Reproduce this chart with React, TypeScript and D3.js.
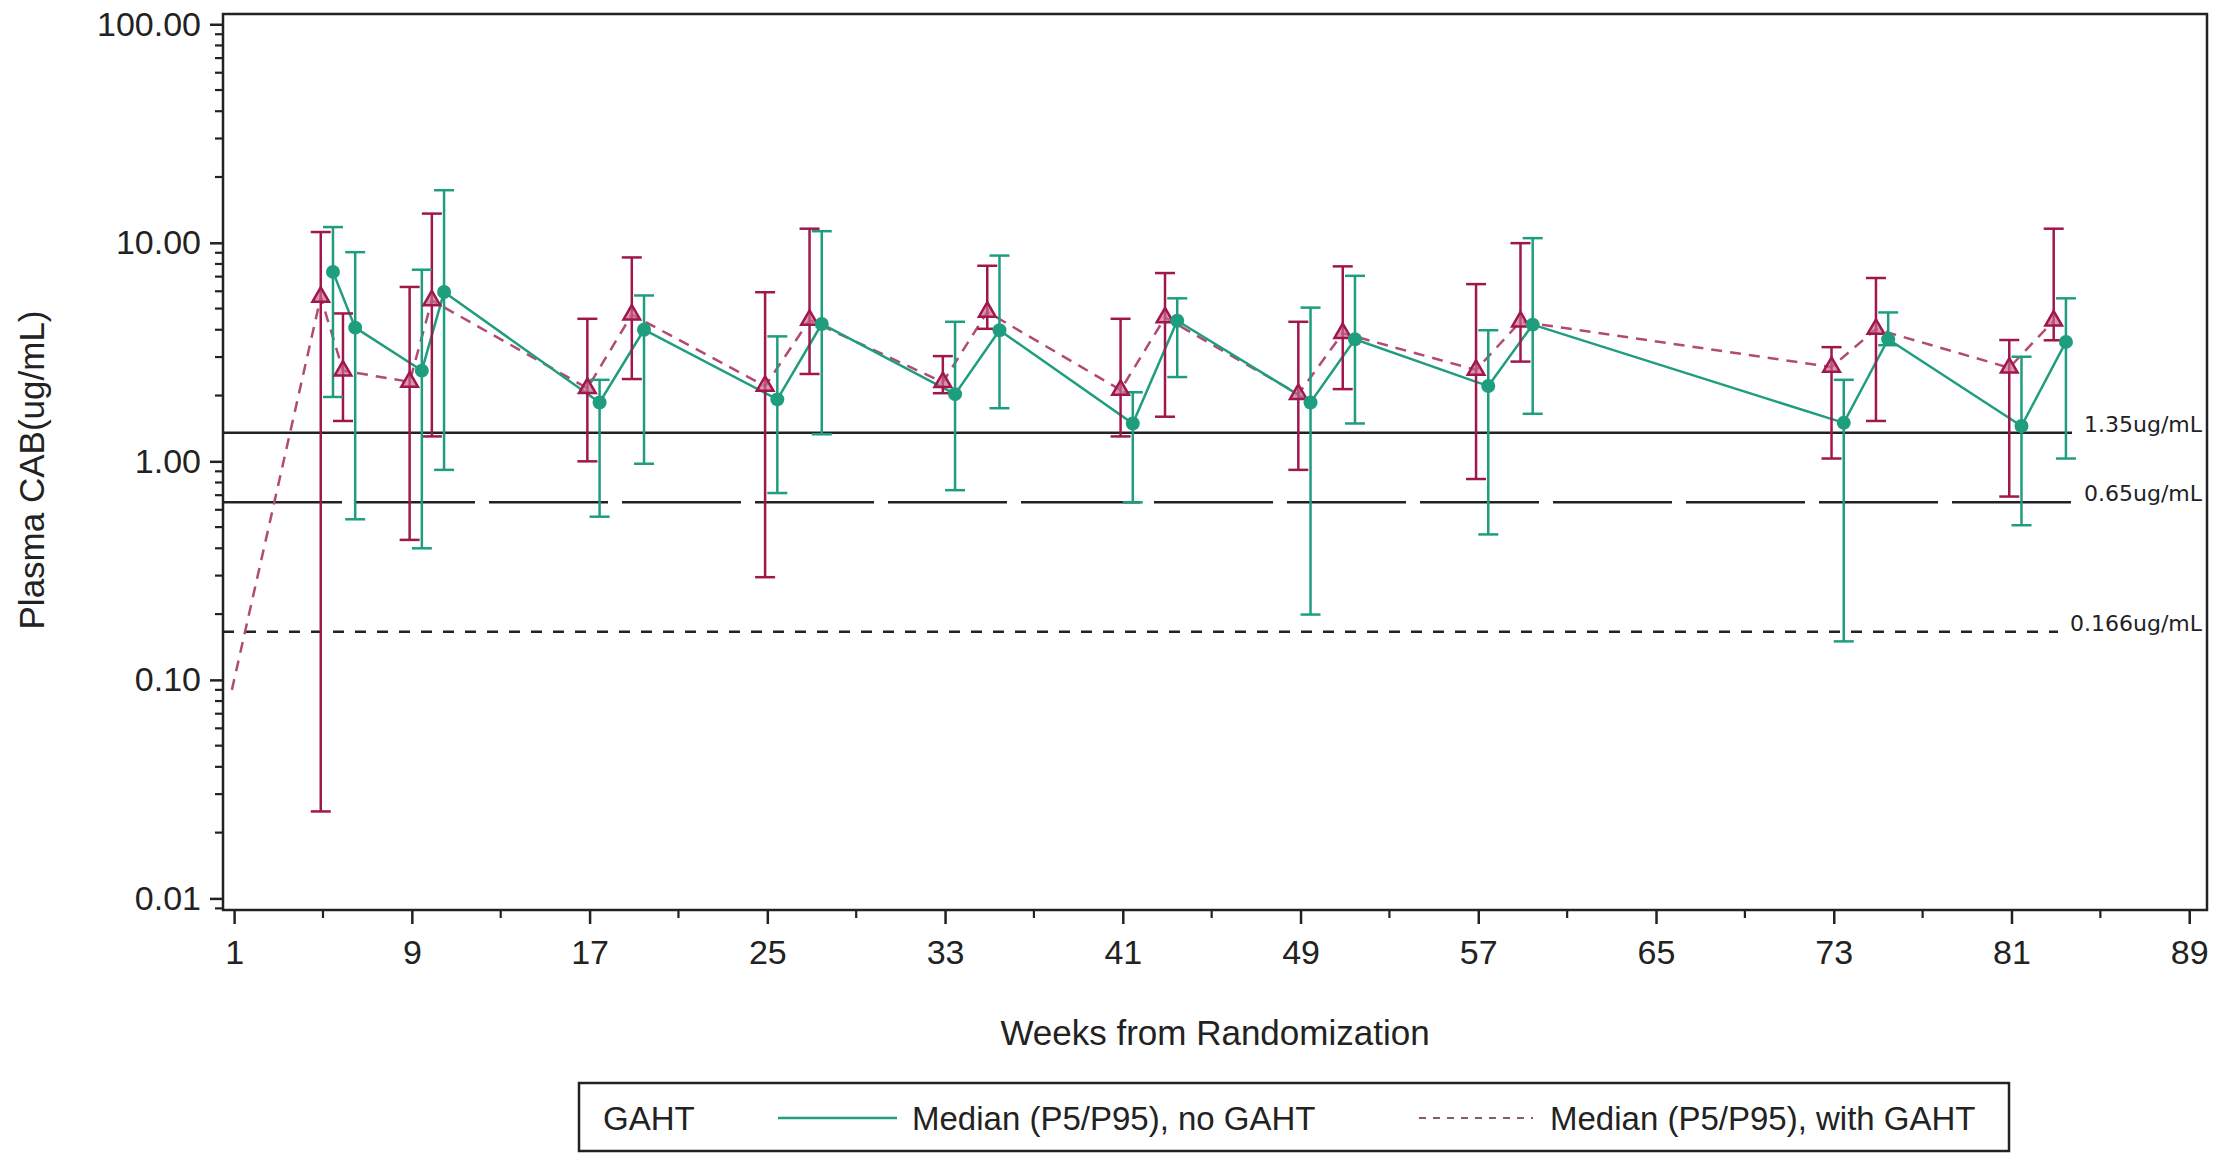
import React, { useEffect, useRef } from 'react'
import * as d3 from 'd3'

// nominal visit weeks
const gahtWeeks = [1, 5, 6, 9, 10, 17, 19, 25, 27, 33, 35, 41, 43, 49, 51, 57, 59, 73, 75, 81, 83]
const noGahtWeeks = [5, 6, 9, 10, 17, 19, 25, 27, 33, 35, 41, 43, 49, 51, 57, 59, 73, 75, 81, 83]

// Median (P5/P95), no GAHT
const noGahtMedian = [7.36, 4.09, 2.6, 5.95, 1.86, 4.0, 1.92, 4.25, 2.03, 3.98, 1.49, 4.4, 1.86, 3.62, 2.21, 4.22, 1.5, 3.62, 1.45, 3.52]
const noGahtP5 = [1.97, 0.543, 0.4, 0.914, 0.558, 0.975, 0.716, 1.33, 0.738, 1.75, 0.649, 2.43, 0.199, 1.49, 0.463, 1.65, 0.15, 3.4, 0.51, 1.03]
const noGahtP95 = [11.8, 9.06, 7.53, 17.4, 2.36, 5.74, 3.73, 11.3, 4.35, 8.74, 2.07, 5.57, 5.05, 7.06, 3.98, 10.5, 2.36, 4.8, 3.01, 5.57]

// Median (P5/P95), with GAHT
const gahtMedian = [0.09, 5.65, 2.6, 2.31, 5.45, 2.16, 4.69, 2.21, 4.43, 2.3, 4.83, 2.12, 4.55, 2.03, 3.86, 2.62, 4.36, 2.7, 4.03, 2.68, 4.4]
const gahtP5 = [null, 0.025, 1.53, 0.437, 1.3, 1.0, 2.38, 0.295, 2.51, 2.05, 4.04, 1.3, 1.6, 0.914, 2.14, 0.83, 2.86, 1.03, 1.53, 0.69, 3.58]
const gahtP95 = [null, 11.2, 4.75, 6.28, 13.6, 4.49, 8.57, 5.94, 11.6, 3.03, 7.85, 4.49, 7.27, 4.35, 7.8, 6.47, 9.96, 3.33, 6.9, 3.59, 11.6]

const refValues = [1.35, 0.65, 0.166]
const refLabels = ['1.35ug/mL', '0.65ug/mL', '0.166ug/mL']

const xTicks = [1, 9, 17, 25, 33, 41, 49, 57, 65, 73, 81, 89]
const xMinorTicks = [5, 13, 21, 29, 37, 45, 53, 61, 69, 77, 85]
const yTicks = [0.01, 0.1, 1, 10, 100]

const GREEN = '#1f9e7f'
const RED = '#a0174b'
const FONT = "'Liberation Sans', Arial, sans-serif"

type Pt = { w: number, m: number, lo: number | null, hi: number | null }

function App () {
  const ref = useRef<SVGSVGElement>(null)

  useEffect(() => {
    document.body.style.margin = '0'
    const W = 2225
    const H = 1153
    const left = 223
    const right = 2207
    const top = 14
    const bottom = 910

    const svg = d3.select(ref.current)
    svg.selectAll('*').remove()

    const x = d3.scaleLinear().domain([0.5, 89.8]).range([left, right])
    const y = d3.scaleLog().domain([0.00885, 111.4]).range([bottom, top])

    svg.append('rect').attr('width', W).attr('height', H).attr('fill', '#fff')

    // clip
    svg.append('clipPath').attr('id', 'plot-clip')
      .append('rect')
      .attr('x', left).attr('y', top)
      .attr('width', right - left).attr('height', bottom - top)

    // y axis
    const yAxis = svg.append('g')
      .attr('transform', 'translate(' + left + ',0)')
      .call(d3.axisLeft(y).tickValues(yTicks).tickFormat(d3.format('.2f')).tickSize(13).tickPadding(9).tickSizeOuter(0))
    yAxis.select('.domain').remove()
    yAxis.selectAll('line').attr('stroke', '#222').attr('stroke-width', 2.5)
    yAxis.selectAll('text').attr('font-family', FONT).attr('font-size', 34).attr('fill', '#222')

    const yMinor: number[] = []
    for (let e = -3; e <= 2; e++) {
      for (let k = 2; k <= 9; k++) {
        const v = k * Math.pow(10, e)
        if (v >= 0.00885 && v <= 111.4) yMinor.push(v)
      }
    }
    svg.append('g').selectAll('line').data(yMinor).enter().append('line')
      .attr('x1', left - 8).attr('x2', left)
      .attr('y1', d => y(d)).attr('y2', d => y(d))
      .attr('stroke', '#222').attr('stroke-width', 2.2)

    // x axis
    const xAxis = svg.append('g')
      .attr('transform', 'translate(0,' + bottom + ')')
      .call(d3.axisBottom(x).tickValues(xTicks).tickFormat(d3.format('d')).tickSize(14).tickPadding(25).tickSizeOuter(0))
    xAxis.select('.domain').remove()
    xAxis.selectAll('line').attr('stroke', '#222').attr('stroke-width', 2.5)
    xAxis.selectAll('text').attr('font-family', FONT).attr('font-size', 34).attr('fill', '#222').attr('dy', '0.45em')

    svg.append('g').selectAll('line').data(xMinorTicks).enter().append('line')
      .attr('x1', d => x(d)).attr('x2', d => x(d))
      .attr('y1', bottom).attr('y2', bottom + 8)
      .attr('stroke', '#222').attr('stroke-width', 2.2)

    // axis labels
    svg.append('text')
      .attr('x', (left + right) / 2).attr('y', 1032)
      .attr('text-anchor', 'middle').attr('dominant-baseline', 'central')
      .attr('font-family', FONT).attr('font-size', 35).attr('fill', '#222')
      .text('Weeks from Randomization')

    svg.append('g')
      .attr('transform', 'translate(31,' + ((top + bottom) / 2 + 8) + ')')
      .append('text')
      .attr('transform', 'rotate(-90)')
      .attr('text-anchor', 'middle').attr('dominant-baseline', 'central')
      .attr('font-family', FONT).attr('font-size', 35).attr('fill', '#222')
      .text('Plasma CAB(ug/mL)')

    // reference lines with labels at the right
    const refDash = ['none', '119,14', '11,11']
    refValues.forEach((v, i) => {
      const t = svg.append('text')
        .attr('x', 2202).attr('y', y(v) - 1)
        .attr('text-anchor', 'end')
        .attr('font-family', "'DejaVu Sans', sans-serif").attr('font-size', 22).attr('fill', '#222')
        .text(refLabels[i])
      const tw = (t.node() as SVGTextElement).getComputedTextLength()
      svg.append('line')
        .attr('x1', left).attr('x2', 2202 - tw - 12)
        .attr('y1', y(v)).attr('y2', y(v))
        .attr('stroke', '#222').attr('stroke-width', 2.5)
        .attr('stroke-dasharray', refDash[i])
    })

    const green: Pt[] = noGahtWeeks.map((w, i) => ({ w: w + 0.45, m: noGahtMedian[i], lo: noGahtP5[i], hi: noGahtP95[i] }))
    const red: Pt[] = gahtWeeks.map((w, i) => ({ w: w - 0.1, m: gahtMedian[i], lo: gahtP5[i], hi: gahtP95[i] }))

    const plot = svg.append('g').attr('clip-path', 'url(#plot-clip)')
    const line = d3.line<Pt>().x(d => x(d.w)).y(d => y(d.m))

    plot.append('path').datum(red)
      .attr('d', line).attr('fill', 'none')
      .attr('stroke', '#b24b72').attr('stroke-width', 2.5)
      .attr('stroke-dasharray', '11,8')

    plot.append('path').datum(green)
      .attr('d', line).attr('fill', 'none')
      .attr('stroke', GREEN).attr('stroke-width', 2.5)

    function errorBars (data: Pt[], color: string) {
      const g = plot.append('g').attr('stroke', color).attr('stroke-width', 2.5)
      const withBars = data.filter(d => d.lo != null && d.hi != null)
      g.selectAll('.v').data(withBars).enter().append('line')
        .attr('x1', d => x(d.w)).attr('x2', d => x(d.w))
        .attr('y1', d => y(d.lo as number)).attr('y2', d => y(d.hi as number))
      g.selectAll('.lo').data(withBars).enter().append('line')
        .attr('x1', d => x(d.w) - 10).attr('x2', d => x(d.w) + 10)
        .attr('y1', d => y(d.lo as number)).attr('y2', d => y(d.lo as number))
      g.selectAll('.hi').data(withBars).enter().append('line')
        .attr('x1', d => x(d.w) - 10).attr('x2', d => x(d.w) + 10)
        .attr('y1', d => y(d.hi as number)).attr('y2', d => y(d.hi as number))
    }
    errorBars(red, RED)
    errorBars(green, GREEN)

    // markers
    const tri = d3.symbol().type(d3.symbolTriangle).size(120)
    plot.append('g').selectAll('path').data(red.filter(d => d.lo != null)).enter().append('path')
      .attr('d', tri)
      .attr('transform', d => 'translate(' + x(d.w) + ',' + y(d.m) + ')')
      .attr('fill', '#c96a8d').attr('fill-opacity', 0.7)
      .attr('stroke', RED).attr('stroke-width', 2.5)

    plot.append('g').selectAll('circle').data(green).enter().append('circle')
      .attr('cx', d => x(d.w)).attr('cy', d => y(d.m)).attr('r', 7)
      .attr('fill', GREEN)

    // frame
    svg.append('rect')
      .attr('x', left).attr('y', top)
      .attr('width', right - left).attr('height', bottom - top)
      .attr('fill', 'none').attr('stroke', '#222').attr('stroke-width', 2.5)

    // legend
    const lg = svg.append('g')
    lg.append('rect')
      .attr('x', 579).attr('y', 1083).attr('width', 1430).attr('height', 68)
      .attr('fill', '#fff').attr('stroke', '#222').attr('stroke-width', 2.5)
    const ly = 1118
    lg.append('text').attr('x', 603).attr('y', ly).attr('dominant-baseline', 'central')
      .attr('font-family', FONT).attr('font-size', 33).attr('fill', '#222').text('GAHT')
    lg.append('line').attr('x1', 778).attr('x2', 897).attr('y1', ly).attr('y2', ly)
      .attr('stroke', GREEN).attr('stroke-width', 2.5)
    lg.append('text').attr('x', 912).attr('y', ly).attr('dominant-baseline', 'central')
      .attr('font-family', FONT).attr('font-size', 33).attr('fill', '#222').text('Median (P5/P95), no GAHT')
    lg.append('line').attr('x1', 1419).attr('x2', 1533).attr('y1', ly).attr('y2', ly)
      .attr('stroke', '#5a2a3a').attr('stroke-width', 1.6).attr('stroke-dasharray', '7,7')
    lg.append('text').attr('x', 1550).attr('y', ly).attr('dominant-baseline', 'central')
      .attr('font-family', FONT).attr('font-size', 33).attr('fill', '#222').text('Median (P5/P95), with GAHT')
  }, [])

  return <svg ref={ref} width={2225} height={1153} style={{ display: 'block' }} />
}

export default App
